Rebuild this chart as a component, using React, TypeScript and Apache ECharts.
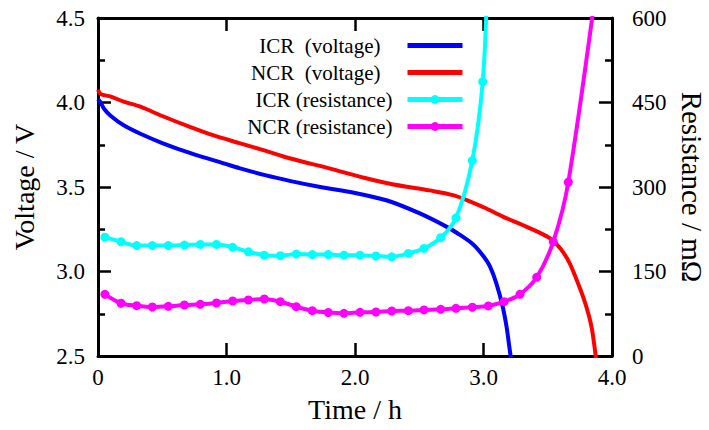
import React, { useEffect, useRef } from "react";
import * as echarts from "echarts";

const FONT = '"Liberation Serif", "Times New Roman", serif';

// ICR voltage (left axis, V)
const icrVoltTime = [0, 0.02, 0.05, 0.1, 0.2, 0.33, 0.5, 0.72, 1.0, 1.1, 1.3, 1.5, 1.73, 2.0, 2.25, 2.5, 2.7, 2.8, 2.92, 3.0, 3.05, 3.1, 3.15, 3.18, 3.2, 3.22];
const icrVolt = [4.02, 4.0, 3.96, 3.92, 3.865, 3.815, 3.76, 3.7, 3.635, 3.612, 3.57, 3.535, 3.5, 3.465, 3.42, 3.345, 3.27, 3.225, 3.16, 3.09, 3.03, 2.93, 2.79, 2.67, 2.56, 2.45];

// NCR voltage (left axis, V)
const ncrVoltTime = [0, 0.02, 0.1, 0.2, 0.33, 0.5, 0.71, 0.9, 1.1, 1.3, 1.49, 1.8, 2.07, 2.3, 2.58, 2.77, 3.0, 3.15, 3.35, 3.51, 3.6, 3.67, 3.72, 3.78, 3.82, 3.845, 3.87, 3.885];
const ncrVolt = [4.075, 4.05, 4.035, 4.005, 3.975, 3.92, 3.857, 3.805, 3.76, 3.715, 3.67, 3.61, 3.555, 3.515, 3.48, 3.45, 3.38, 3.325, 3.26, 3.2, 3.135, 3.05, 2.96, 2.84, 2.74, 2.655, 2.52, 2.42];

// ICR resistance (right axis, mΩ)
const icrResTime = [0.054, 0.179, 0.301, 0.423, 0.547, 0.672, 0.796, 0.922, 1.048, 1.17, 1.294, 1.419, 1.543, 1.668, 1.792, 1.914, 2.039, 2.163, 2.286, 2.415, 2.537, 2.667, 2.786, 2.913, 2.994, 3.03];
const icrRes = [211, 203, 196, 196, 196, 197, 198, 198, 193, 185, 179, 178, 181, 180, 180, 179, 179, 177.5, 176, 182, 191, 210, 245, 347, 487, 662];

// NCR resistance (right axis, mΩ)
const ncrResTime = [0.054, 0.179, 0.301, 0.423, 0.547, 0.672, 0.796, 0.922, 1.048, 1.17, 1.294, 1.419, 1.543, 1.668, 1.792, 1.914, 2.039, 2.163, 2.286, 2.415, 2.537, 2.667, 2.786, 2.913, 3.037, 3.16, 3.284, 3.414, 3.543, 3.66, 3.9];
const ncrRes = [109.5, 93.6, 89.3, 87, 88.2, 90.5, 91.8, 94.1, 97.6, 99.4, 101.2, 96.4, 87.5, 80.4, 77.2, 75.8, 77.6, 78.1, 79.9, 80.4, 81.7, 82.9, 84.7, 86.5, 88.8, 96.4, 109.5, 139.7, 202.9, 308.4, 693];

const seriesNames = ["ICR  (voltage)", "NCR  (voltage)", "ICR (resistance)", "NCR (resistance)"];
const seriesColors = ["#0000ff", "#ff0000", "#00ffff", "#ff00ff"];

const xTicks = { min: 0, max: 4, interval: 1 };
const vTicks = { min: 2.5, max: 4.5, interval: 0.5 };
const rTicks = { min: 0, max: 600, interval: 150 };

const pairs = (xs: number[], ys: number[]) => xs.map((x, i) => [x, ys[i]]);

export default function App() {
  const ref = useRef<HTMLDivElement>(null);

  useEffect(() => {
    if (!ref.current) return;
    const chart = echarts.init(ref.current, null, { renderer: "svg" });
    const black = "#000";
    const axisLine = { show: true, onZero: false, lineStyle: { color: black, width: 3 } };
    const tick = { show: true, inside: true, length: 13, lineStyle: { color: black, width: 2.5 } };
    const minorTick = { show: true, splitNumber: 2, length: 7, lineStyle: { color: black, width: 2.5 } };

    const legendData = seriesNames.map((name, i) =>
      i < 2
        ? { name, itemStyle: { color: "rgba(0,0,0,0)", borderWidth: 0 }, textStyle: { padding: [0, 22, 0, 0] } }
        : { name, textStyle: { padding: [0, 10, 0, 0] } }
    );

    const lineSeries = (i: number, xs: number[], ys: number[], yAxisIndex: number, marker: boolean) => ({
      name: seriesNames[i],
      type: "line",
      xAxisIndex: 0,
      yAxisIndex,
      data: pairs(xs, ys),
      symbol: marker ? "circle" : "none",
      symbolSize: 9,
      showSymbol: marker,
      smooth: 0.3,
      clip: true,
      lineStyle: { color: seriesColors[i], width: 4 },
      itemStyle: { color: seriesColors[i] },
    });

    chart.setOption({
      animation: false,
      textStyle: { fontFamily: FONT },
      grid: { left: 98, right: 97, top: 18, bottom: 74, containLabel: false, outerBoundsMode: "none" },
      legend: {
        orient: "vertical",
        right: 244,
        top: 35,
        padding: 0,
        itemGap: 6,
        itemWidth: 55,
        itemHeight: 11,
        align: "right",
        lineStyle: { width: 5 },
        textStyle: { fontSize: 21, color: black, fontFamily: FONT, lineHeight: 21 },
        data: legendData,
      },
      xAxis: [
        {
          type: "value",
          position: "bottom",
          ...xTicks,
          axisLine,
          axisTick: tick,
          splitLine: { show: false },
          axisLabel: {
            color: black,
            fontSize: 23,
            fontFamily: FONT,
            margin: 10,
            formatter: (v: number) => (v === 0 ? "0" : v.toFixed(1)),
          },
          name: "Time / h",
          nameLocation: "middle",
          nameGap: 39,
          nameTextStyle: { fontSize: 28, color: black, fontFamily: FONT },
        },
        {
          type: "value",
          position: "top",
          ...xTicks,
          axisLine,
          axisTick: tick,
          splitLine: { show: false },
          axisLabel: { show: false },
        },
      ],
      yAxis: [
        {
          type: "value",
          position: "left",
          ...vTicks,
          axisLine,
          axisTick: tick,
          minorTick,
          splitLine: { show: false },
          axisLabel: {
            color: black,
            fontSize: 23,
            fontFamily: FONT,
            margin: 13,
            formatter: (v: number) => v.toFixed(1),
          },
          name: "Voltage / V",
          nameLocation: "middle",
          nameRotate: 90,
          nameGap: 60,
          nameTextStyle: { fontSize: 28, color: black, fontFamily: FONT },
        },
        {
          type: "value",
          position: "right",
          ...rTicks,
          axisLine,
          axisTick: tick,
          minorTick,
          splitLine: { show: false },
          axisLabel: {
            color: black,
            fontSize: 23,
            fontFamily: FONT,
            margin: 20,
            formatter: (v: number) => String(v),
          },
          name: "Resistance / mΩ",
          nameLocation: "middle",
          nameRotate: -90,
          nameGap: 64,
          nameTextStyle: { fontSize: 29, color: black, fontFamily: FONT },
        },
      ],
      series: [
        lineSeries(0, icrVoltTime, icrVolt, 0, false),
        lineSeries(1, ncrVoltTime, ncrVolt, 0, false),
        lineSeries(2, icrResTime, icrRes, 1, true),
        lineSeries(3, ncrResTime, ncrRes, 1, true),
      ],
    });
    return () => chart.dispose();
  }, []);

  return (
    <div style={{ position: "absolute", left: 0, top: 0, width: 709, height: 430, background: "#fff" }}>
      <div ref={ref} style={{ width: 709, height: 430 }} />
    </div>
  );
}
